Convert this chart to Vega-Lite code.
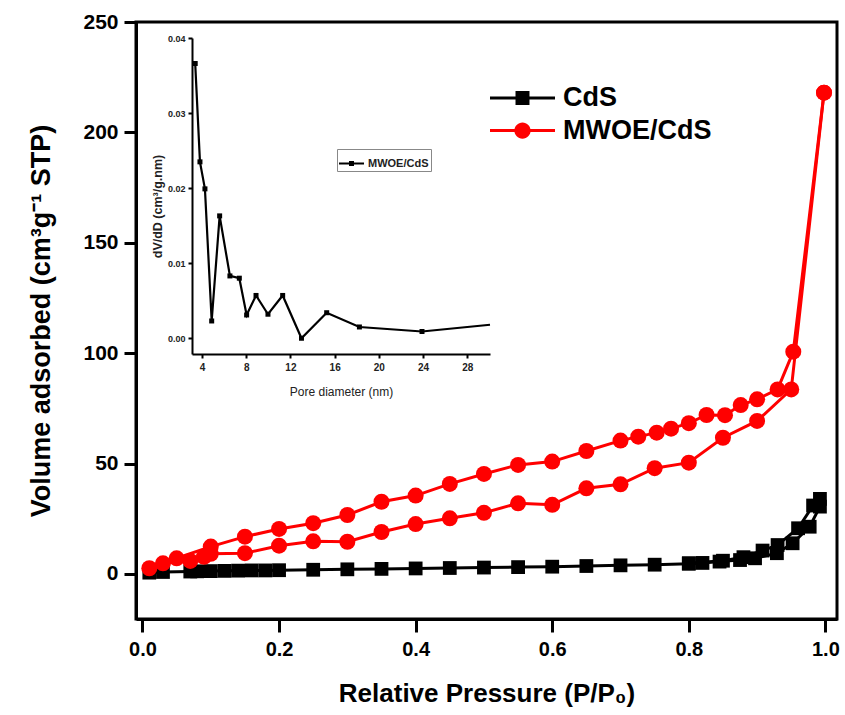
{
  "$schema": "https://vega.github.io/schema/vega-lite/v6.json",
  "width": 701,
  "height": 597,
  "autosize": {"type": "none"},
  "padding": {"left": 136, "top": 22, "right": 8, "bottom": 96},
  "background": "white",
  "config": {
    "view": {"stroke": "black", "strokeWidth": 3},
    "font": "Liberation Sans",
    "axis": {"grid": false}
  },
  "datasets": {
    "iso": [
      {"series": "CdS", "branch": "ads", "p": 0.01, "v": 0.6},
      {"series": "CdS", "branch": "ads", "p": 0.03, "v": 0.9},
      {"series": "CdS", "branch": "ads", "p": 0.07, "v": 1.1},
      {"series": "CdS", "branch": "ads", "p": 0.08, "v": 1.2},
      {"series": "CdS", "branch": "ads", "p": 0.10, "v": 1.3},
      {"series": "CdS", "branch": "ads", "p": 0.12, "v": 1.4},
      {"series": "CdS", "branch": "ads", "p": 0.14, "v": 1.5},
      {"series": "CdS", "branch": "ads", "p": 0.16, "v": 1.6},
      {"series": "CdS", "branch": "ads", "p": 0.18, "v": 1.6},
      {"series": "CdS", "branch": "ads", "p": 0.20, "v": 1.7},
      {"series": "CdS", "branch": "ads", "p": 0.25, "v": 1.9},
      {"series": "CdS", "branch": "ads", "p": 0.30, "v": 2.1},
      {"series": "CdS", "branch": "ads", "p": 0.35, "v": 2.3},
      {"series": "CdS", "branch": "ads", "p": 0.40, "v": 2.5},
      {"series": "CdS", "branch": "ads", "p": 0.45, "v": 2.7},
      {"series": "CdS", "branch": "ads", "p": 0.50, "v": 2.9},
      {"series": "CdS", "branch": "ads", "p": 0.55, "v": 3.1},
      {"series": "CdS", "branch": "ads", "p": 0.60, "v": 3.3},
      {"series": "CdS", "branch": "ads", "p": 0.65, "v": 3.6},
      {"series": "CdS", "branch": "ads", "p": 0.70, "v": 3.9},
      {"series": "CdS", "branch": "ads", "p": 0.75, "v": 4.2},
      {"series": "CdS", "branch": "ads", "p": 0.80, "v": 4.6},
      {"series": "CdS", "branch": "ads", "p": 0.82, "v": 5.0},
      {"series": "CdS", "branch": "ads", "p": 0.845, "v": 5.6},
      {"series": "CdS", "branch": "ads", "p": 0.875, "v": 6.3},
      {"series": "CdS", "branch": "ads", "p": 0.897, "v": 7.1},
      {"series": "CdS", "branch": "ads", "p": 0.929, "v": 9.4},
      {"series": "CdS", "branch": "ads", "p": 0.952, "v": 13.9},
      {"series": "CdS", "branch": "ads", "p": 0.977, "v": 21.4},
      {"series": "CdS", "branch": "ads", "p": 0.992, "v": 30.5},
      {"series": "CdS", "branch": "des", "p": 0.992, "v": 34.0},
      {"series": "CdS", "branch": "des", "p": 0.982, "v": 31.0},
      {"series": "CdS", "branch": "des", "p": 0.96, "v": 20.7},
      {"series": "CdS", "branch": "des", "p": 0.93, "v": 13.1},
      {"series": "CdS", "branch": "des", "p": 0.908, "v": 10.6},
      {"series": "CdS", "branch": "des", "p": 0.88, "v": 7.6},
      {"series": "CdS", "branch": "des", "p": 0.85, "v": 6.0},
      {"series": "CdS", "branch": "des", "p": 0.80, "v": 4.9},
      {"series": "MWOE/CdS", "branch": "ads", "p": 0.01, "v": 2.6},
      {"series": "MWOE/CdS", "branch": "ads", "p": 0.03, "v": 4.8},
      {"series": "MWOE/CdS", "branch": "ads", "p": 0.07, "v": 5.9},
      {"series": "MWOE/CdS", "branch": "ads", "p": 0.09, "v": 7.8},
      {"series": "MWOE/CdS", "branch": "ads", "p": 0.10, "v": 9.1},
      {"series": "MWOE/CdS", "branch": "ads", "p": 0.15, "v": 9.4},
      {"series": "MWOE/CdS", "branch": "ads", "p": 0.20, "v": 12.8},
      {"series": "MWOE/CdS", "branch": "ads", "p": 0.25, "v": 14.8},
      {"series": "MWOE/CdS", "branch": "ads", "p": 0.30, "v": 14.6},
      {"series": "MWOE/CdS", "branch": "ads", "p": 0.35, "v": 19.0},
      {"series": "MWOE/CdS", "branch": "ads", "p": 0.40, "v": 22.6},
      {"series": "MWOE/CdS", "branch": "ads", "p": 0.45, "v": 25.2},
      {"series": "MWOE/CdS", "branch": "ads", "p": 0.50, "v": 27.7},
      {"series": "MWOE/CdS", "branch": "ads", "p": 0.55, "v": 32.0},
      {"series": "MWOE/CdS", "branch": "ads", "p": 0.60, "v": 31.3},
      {"series": "MWOE/CdS", "branch": "ads", "p": 0.65, "v": 38.8},
      {"series": "MWOE/CdS", "branch": "ads", "p": 0.70, "v": 40.6},
      {"series": "MWOE/CdS", "branch": "ads", "p": 0.75, "v": 47.9},
      {"series": "MWOE/CdS", "branch": "ads", "p": 0.80, "v": 50.4},
      {"series": "MWOE/CdS", "branch": "ads", "p": 0.85, "v": 61.7},
      {"series": "MWOE/CdS", "branch": "ads", "p": 0.90, "v": 69.3},
      {"series": "MWOE/CdS", "branch": "ads", "p": 0.95, "v": 83.6},
      {"series": "MWOE/CdS", "branch": "ads", "p": 0.998, "v": 218.0},
      {"series": "MWOE/CdS", "branch": "des", "p": 0.998, "v": 218.0},
      {"series": "MWOE/CdS", "branch": "des", "p": 0.953, "v": 100.7},
      {"series": "MWOE/CdS", "branch": "des", "p": 0.93, "v": 83.6},
      {"series": "MWOE/CdS", "branch": "des", "p": 0.90, "v": 79.1},
      {"series": "MWOE/CdS", "branch": "des", "p": 0.876, "v": 76.5},
      {"series": "MWOE/CdS", "branch": "des", "p": 0.853, "v": 71.9},
      {"series": "MWOE/CdS", "branch": "des", "p": 0.826, "v": 72.0},
      {"series": "MWOE/CdS", "branch": "des", "p": 0.80, "v": 68.3},
      {"series": "MWOE/CdS", "branch": "des", "p": 0.774, "v": 65.8},
      {"series": "MWOE/CdS", "branch": "des", "p": 0.753, "v": 64.0},
      {"series": "MWOE/CdS", "branch": "des", "p": 0.726, "v": 62.2},
      {"series": "MWOE/CdS", "branch": "des", "p": 0.70, "v": 60.4},
      {"series": "MWOE/CdS", "branch": "des", "p": 0.65, "v": 55.7},
      {"series": "MWOE/CdS", "branch": "des", "p": 0.60, "v": 50.9},
      {"series": "MWOE/CdS", "branch": "des", "p": 0.55, "v": 49.4},
      {"series": "MWOE/CdS", "branch": "des", "p": 0.50, "v": 45.3},
      {"series": "MWOE/CdS", "branch": "des", "p": 0.45, "v": 40.8},
      {"series": "MWOE/CdS", "branch": "des", "p": 0.40, "v": 35.5},
      {"series": "MWOE/CdS", "branch": "des", "p": 0.35, "v": 32.7},
      {"series": "MWOE/CdS", "branch": "des", "p": 0.30, "v": 26.7},
      {"series": "MWOE/CdS", "branch": "des", "p": 0.25, "v": 23.0},
      {"series": "MWOE/CdS", "branch": "des", "p": 0.20, "v": 20.4},
      {"series": "MWOE/CdS", "branch": "des", "p": 0.15, "v": 16.9},
      {"series": "MWOE/CdS", "branch": "des", "p": 0.10, "v": 12.4},
      {"series": "MWOE/CdS", "branch": "des", "p": 0.05, "v": 7.1}
    ],
    "psd": [
      {"sample": "MWOE/CdS", "D": 3.39, "dV": 0.0366},
      {"sample": "MWOE/CdS", "D": 3.82, "dV": 0.0235},
      {"sample": "MWOE/CdS", "D": 4.27, "dV": 0.0199},
      {"sample": "MWOE/CdS", "D": 4.88, "dV": 0.0023},
      {"sample": "MWOE/CdS", "D": 5.6, "dV": 0.0163},
      {"sample": "MWOE/CdS", "D": 6.53, "dV": 0.0083},
      {"sample": "MWOE/CdS", "D": 7.38, "dV": 0.0080},
      {"sample": "MWOE/CdS", "D": 8.04, "dV": 0.0031},
      {"sample": "MWOE/CdS", "D": 8.89, "dV": 0.0057},
      {"sample": "MWOE/CdS", "D": 9.97, "dV": 0.0032},
      {"sample": "MWOE/CdS", "D": 11.3, "dV": 0.0057},
      {"sample": "MWOE/CdS", "D": 13.0, "dV": 0.0000},
      {"sample": "MWOE/CdS", "D": 15.28, "dV": 0.0034},
      {"sample": "MWOE/CdS", "D": 18.24, "dV": 0.0015},
      {"sample": "MWOE/CdS", "D": 23.9, "dV": 0.0009},
      {"sample": "MWOE/CdS", "D": 30.05, "dV": 0.0018}
    ]
  },
  "layer": [
    {
      "data": {"name": "iso"},
      "encoding": {
        "x": {
          "field": "p", "type": "quantitative",
          "scale": {"domain": [-0.0095, 1.017], "nice": false, "zero": false},
          "axis": {
            "values": [0, 0.2, 0.4, 0.6, 0.8, 1.0], "format": ".1f",
            "labelFont": "Liberation Sans", "labelFontSize": 20, "labelFontWeight": "bold", "labelColor": "black",
            "labelPadding": 7, "labelFlush": false,
            "tickSize": 13, "tickWidth": 3, "tickColor": "black",
            "domainColor": "black", "domainWidth": 3,
            "title": "Relative Pressure (P/P₀)", "titleFont": "Liberation Sans", "titleFontSize": 26,
            "titleFontWeight": "bold", "titleColor": "black", "titlePadding": 21
          }
        },
        "y": {
          "field": "v", "type": "quantitative",
          "scale": {"domain": [-20.4, 250], "nice": false, "zero": false},
          "axis": {
            "values": [0, 50, 100, 150, 200, 250],
            "labelFont": "Liberation Sans", "labelFontSize": 21, "labelFontWeight": "bold", "labelColor": "black",
            "labelPadding": 6, "labelFlush": false,
            "tickSize": 12, "tickWidth": 3, "tickColor": "black",
            "domainColor": "black", "domainWidth": 3,
            "title": "Volume adsorbed (cm³g⁻¹ STP)", "titleFont": "Liberation Sans", "titleFontSize": 27,
            "titleFontWeight": "bold", "titleColor": "black", "titlePadding": 27
          }
        }
      },
      "layer": [
        {
          "transform": [{"filter": "datum.series === 'CdS'"}],
          "mark": {"type": "line", "color": "black", "strokeWidth": 3},
          "encoding": {"detail": {"field": "branch"}}
        },
        {
          "transform": [{"filter": "datum.series === 'MWOE/CdS'"}],
          "mark": {"type": "line", "color": "#ff0000", "strokeWidth": 3},
          "encoding": {"detail": {"field": "branch"}}
        },
        {
          "transform": [{"filter": "datum.series === 'CdS'"}],
          "mark": {"type": "point", "shape": "square", "filled": true, "color": "black", "size": 190, "opacity": 1}
        },
        {
          "transform": [{"filter": "datum.series === 'MWOE/CdS'"}],
          "mark": {"type": "point", "shape": "circle", "filled": true, "color": "#ff0000", "size": 256, "opacity": 1}
        },
        {
          "transform": [{"filter": "datum.series === 'CdS'"}],
          "mark": {"type": "point", "opacity": 0, "filled": true, "color": "black", "strokeWidth": 0},
          "encoding": {
            "shape": {
              "field": "series", "type": "nominal",
              "scale": {"domain": ["CdS"], "range": ["M-1,-0.046H1V0.046H-1ZM-0.215,-0.215H0.215V0.215H-0.215Z"]},
              "legend": {"title": null, "orient": "none", "legendX": 354, "legendY": 43.5, "padding": 0,
                "labelFont": "Liberation Sans", "labelFontSize": 27, "labelFontWeight": "bold", "labelColor": "black",
                "symbolSize": 4225, "symbolStrokeWidth": 0, "symbolOpacity": 1, "symbolFillColor": "black",
                "labelOffset": 8}
            }
          }
        },
        {
          "transform": [{"filter": "datum.series === 'MWOE/CdS'"}],
          "mark": {"type": "point", "opacity": 0, "filled": true, "strokeWidth": 0,
            "shape": "M-1,-0.046H1V0.046H-1ZM0.25,0A0.25,0.25,0,1,1,-0.25,0A0.25,0.25,0,1,1,0.25,0Z"},
          "encoding": {
            "fill": {
              "field": "series", "type": "nominal",
              "scale": {"domain": ["MWOE/CdS"], "range": ["#ff0000"]},
              "legend": {"title": null, "orient": "none", "legendX": 354, "legendY": 76, "padding": 0,
                "labelFont": "Liberation Sans", "labelFontSize": 27, "labelFontWeight": "bold", "labelColor": "black",
                "symbolSize": 4225, "symbolStrokeWidth": 0, "symbolOpacity": 1,
                "symbolType": "M-1,-0.046H1V0.046H-1ZM0.25,0A0.25,0.25,0,1,1,-0.25,0A0.25,0.25,0,1,1,0.25,0Z",
                "labelOffset": 8}
            }
          }
        }
      ]
    },
    {
      "data": {"name": "psd"},
      "encoding": {
        "x": {
          "field": "D", "type": "quantitative",
          "scale": {"domain": [3.1, 30.05], "range": [56, 354], "nice": false, "zero": false},
          "axis": {
            "orient": "bottom", "offset": -265,
            "values": [4, 8, 12, 16, 20, 24, 28],
            "labelFont": "Liberation Sans", "labelFontSize": 10, "labelFontWeight": "bold", "labelColor": "#222",
            "labelPadding": 4, "labelFlush": false,
            "tickSize": 4, "tickWidth": 2, "tickColor": "black",
            "domainColor": "black", "domainWidth": 2,
            "title": "Pore diameter (nm)", "titleFont": "Liberation Sans", "titleFontSize": 12,
            "titleFontWeight": "normal", "titleColor": "#222", "titlePadding": 14
          }
        },
        "y": {
          "field": "dV", "type": "quantitative",
          "scale": {"domain": [-0.0021, 0.04], "range": [332, 16], "nice": false, "zero": false},
          "axis": {
            "orient": "left", "offset": -56,
            "values": [0, 0.01, 0.02, 0.03, 0.04], "format": ".2f",
            "labelFont": "Liberation Sans", "labelFontSize": 9, "labelFontWeight": "bold", "labelColor": "#222",
            "labelPadding": 3, "labelFlush": false,
            "tickSize": 4, "tickWidth": 2, "tickColor": "black",
            "domainColor": "black", "domainWidth": 2,
            "title": "dV/dD (cm³/g.nm)", "titleFont": "Liberation Sans", "titleFontSize": 12.5,
            "titleFontWeight": "bold", "titleColor": "#222", "titlePadding": 3, "titleY": 184
          }
        }
      },
      "layer": [
        {
          "mark": {"type": "line", "color": "black", "strokeWidth": 2.2}
        },
        {
          "transform": [{"filter": "datum.D < 30"}],
          "mark": {"type": "point", "shape": "square", "filled": true, "color": "black", "size": 25, "opacity": 1}
        },
        {
          "mark": {"type": "point", "opacity": 0, "filled": true, "color": "black", "strokeWidth": 0},
          "encoding": {
            "shape": {
              "field": "sample", "type": "nominal",
              "scale": {"domain": ["MWOE/CdS"], "range": ["M-1,-0.08H1V0.08H-1ZM-0.2,-0.2H0.2V0.2H-0.2Z"]},
              "legend": {"title": null, "orient": "none", "legendX": 201, "legendY": 127,
                "labelFont": "Liberation Sans", "labelFontSize": 11, "labelFontWeight": "bold", "labelColor": "#222",
                "symbolSize": 625, "symbolStrokeWidth": 0, "symbolOpacity": 1,
                "symbolFillColor": "black",
                "strokeColor": "#888", "padding": 2, "labelOffset": 4}
            }
          }
        }
      ]
    }
  ],
  "resolve": {
    "scale": {"x": "independent", "y": "independent", "shape": "independent"},
    "axis": {"x": "independent", "y": "independent"},
    "legend": {"shape": "independent"}
  }
}
